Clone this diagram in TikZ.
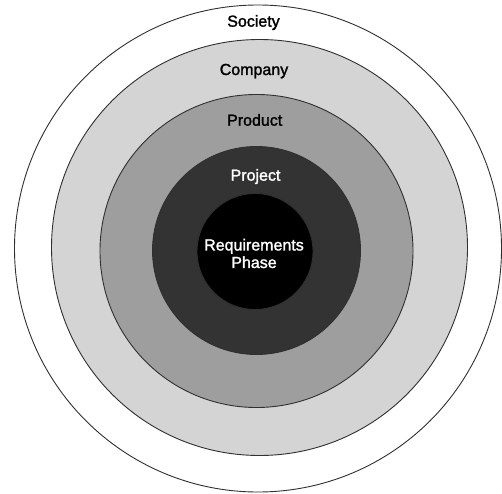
\documentclass[tikz,border=0pt]{standalone}
\usepackage{fontspec}
\setmainfont{Liberation Sans}
\newfontfamily\lblfont[FakeBold=1.6]{Liberation Sans}
\definecolor{ringA}{HTML}{D4D4D4}
\definecolor{ringB}{HTML}{9E9E9E}
\definecolor{ringC}{HTML}{333333}
\definecolor{edge}{HTML}{303030}
\begin{document}
\begin{tikzpicture}[x=1pt,y=1pt,
  ring/.style={draw=edge,line width=0.9pt},
  lbl/.style={inner sep=0pt,anchor=base,font=\lblfont\fontsize{16}{17.5}\selectfont}]
\useasboundingbox (0,0) rectangle (502,493);
% circles (pixel centres converted: Y = 493 - y)
\draw[ring,fill=white] (258,244.5) circle (243.5);
\draw[ring,fill=ringA] (259.5,245.5) circle (208);
\draw[ring,fill=ringB] (256.5,242) circle (156.5);
\draw[ring,fill=ringC] (256.5,242.5) circle (104);
\draw[ring,fill=black] (255,241.5) circle (58);
% labels
\node[lbl] (soc) at (253.5,466.3) {Society};
\node[lbl] (com) at (254,418) {Company};
\node[lbl] (pro) at (254.7,367.3) {Product};
\node[lbl,text=white] (prj) at (255.5,312.3) {Project};
\node[inner sep=0pt,anchor=center,align=center,text=white,
      font=\lblfont\fontsize{16}{17.5}\selectfont] (req) at (254,239.5) {Requirements\\Phase};
\end{tikzpicture}
\end{document}
